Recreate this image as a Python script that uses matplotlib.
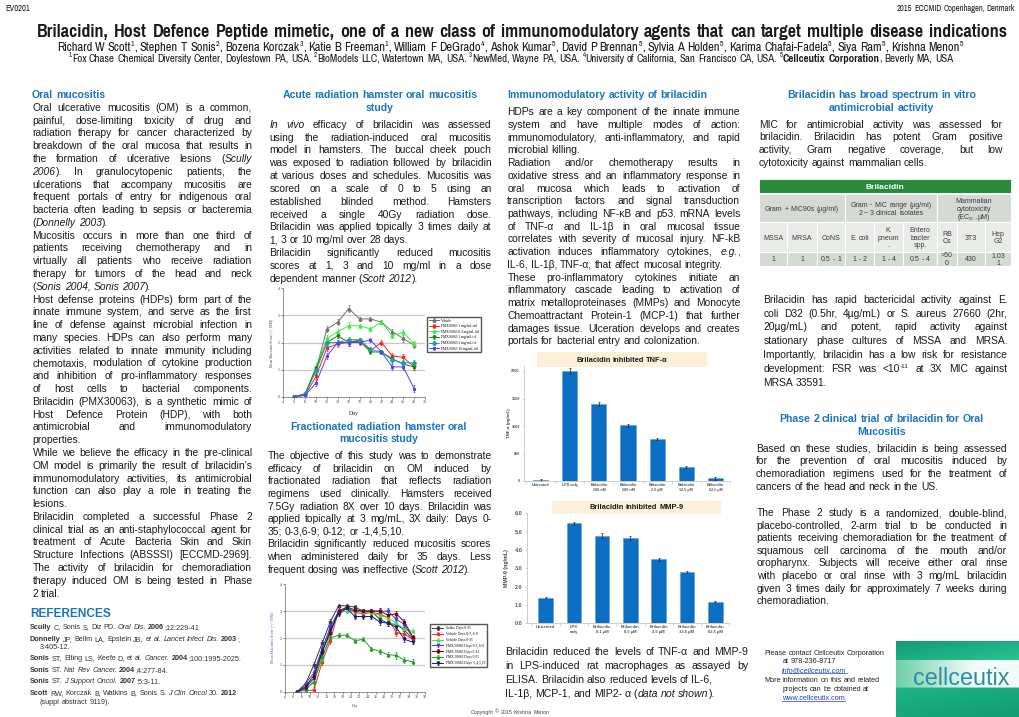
import re
import numpy as np
import matplotlib
matplotlib.use("Agg")
import matplotlib.pyplot as plt
from matplotlib import font_manager
from matplotlib.patches import Rectangle
from matplotlib.colors import to_rgb

# ------------------------------------------------------------------ data
days1 = [6, 8, 10, 12, 14, 16, 18, 20, 22, 24, 26, 28]
vehicle1 = [0, 0.1, 1.0, 2.5, 2.75, 3.25, 2.87, 2.87, 2.75, 2.4, 2.15, 1.9]
pmx1_sid = [0, 0.05, 0.75, 1.8, 1.95, 2.0, 2.1, 1.7, 2.0, 1.5, 1.45, 1.1]
pmx03_tid = [0, 0.1, 1.1, 2.15, 2.4, 2.62, 2.62, 2.5, 2.75, 2.25, 2.38, 1.95]
pmx1_tid = [0, 0.1, 1.05, 2.0, 2.25, 2.0, 2.05, 1.65, 1.65, 1.4, 1.2, 1.1]
pmx3_tid = [0, 0.1, 0.95, 2.0, 2.0, 2.1, 2.1, 1.75, 1.65, 1.35, 1.25, 1.25]
pmx10_tid = [0, 0.05, 0.5, 1.5, 2.0, 2.0, 2.0, 2.1, 1.65, 1.1, 1.1, 0.3]
err1 = [0, 0.03, 0.1, 0.12, 0.1, 0.12, 0.08, 0.08, 0.08, 0.1, 0.12, 0.12]
labels1 = ["Vehicle", "PMX30063 1 mg/mL sid", "PMX30063 0.3 mg/mL tid",
           "PMX30063 1 mg/mL tid", "PMX30063 3 mg/mL tid", "PMX30063 10 mg/mL tid"]

days2 = [7, 9, 11, 13, 15, 17, 19, 21, 23, 25, 27, 29, 31, 33, 35]
saline2 = [0, 0.3, 1.0, 1.8, 2.6, 3.2, 3.2, 3.15, 3.0, 3.0, 2.7, 2.55, 2.5, 2.3, 1.95]
veh_0369 = [0, 0.05, 0.05, 1.1, 1.9, 3.0, 3.1, 2.95, 2.9, 2.95, 2.9, 2.75, 2.2, 2.15, 1.95]
veh_035 = [0, 0.1, 0.4, 1.2, 2.2, 2.95, 3.0, 3.0, 2.95, 2.95, 2.85, 2.75, 2.55, 2.35, 2.25]
pmx_0369 = [0, 0.3, 0.7, 1.6, 2.4, 3.0, 3.1, 3.0, 3.0, 3.0, 3.0, 3.0, 2.7, 2.5, 2.0]
pmx_012 = [0, 0.2, 0.6, 1.5, 2.2, 3.0, 3.15, 3.05, 3.0, 3.0, 3.0, 2.85, 2.9, 2.6, 2.05]
pmx_035 = [0, 0.1, 0.35, 1.3, 2.0, 2.1, 2.1, 1.9, 1.95, 1.6, 1.5, 1.38, 1.35, 1.18, 1.12]
pmx_14510 = [0, 0.15, 0.5, 1.45, 2.3, 2.9, 3.1, 2.8, 2.8, 2.8, 2.6, 2.55, 2.4, 1.95, 1.85]
err2 = [0, 0.05, 0.12, 0.12, 0.12, 0.08, 0.08, 0.08, 0.08, 0.08, 0.1, 0.1, 0.12, 0.1, 0.08]
labels2 = ["Saline Days 0-35", "Vehicle Days 0-3, 6-9", "Vehicle Days 0-35",
           "PMX 30063 Days 0-3, 6-9", "PMX 30063 Days 0-12", "PMX 30063 Days 0-35",
           "PMX 30063 Days -1,4,5,10"]

tnf_labels = ["Untreated", "LPS only", "Brilacidin\n100 nM", "Brilacidin\n500 nM",
              "Brilacidin\n2.5 \u00b5M", "Brilacidin\n12.5 \u00b5M", "Brilacidin\n62.5 \u00b5M"]
tnf_vals = [20, 2000, 1400, 1010, 760, 255, 50]
tnf_err = [15, 60, 40, 25, 20, 20, 25]
tnf_ticks = [0, 500, 1000, 1500, 2000]

mmp_labels = ["Untreated", "LPS\nonly", "Brilacidin\n0.1 \u00b5M", "Brilacidin\n0.5 \u00b5M",
              "Brilacidin\n2.5 \u00b5M", "Brilacidin\n12.5 \u00b5M", "Brilacidin\n62.5 \u00b5M"]
mmp_vals = [1.4, 5.45, 4.78, 4.65, 3.5, 2.8, 1.18]
mmp_err = [0.04, 0.1, 0.15, 0.12, 0.08, 0.04, 0.03]
mmp_ticks = [0, 1, 2, 3, 4, 5, 6]

tbl_groups = [["Gram +  MIC90s (\u00b5g/ml)"],
              ["Gram -  MIC range (\u00b5g/ml)", "2 \u2013 3 clinical isolates"],
              ["Mammalian", "cytotoxicity", "(EC~50~, \u00b5M)"]]
tbl_names = [["MSSA"], ["MRSA"], ["CoNS"], ["E. coli"], ["K.", "pneum", "."],
             ["Entero", "bacter", "spp."], ["RB", "Cs"], ["3T3"], ["Hep", "G2"]]
tbl_values = [["1"], ["1"], ["0.5 - 1"], ["1 - 2"], ["1 - 4"], ["0.5 - 4"],
              [">50", "0"], ["430"], ["1,03", "1"]]

# ------------------------------------------------------------------ setup
W, H = 1020, 717
fig = plt.figure(figsize=(W / 100, H / 100), dpi=100)
fig.patch.set_facecolor("white")
bg = fig.add_axes([0, 0, 1, 1])
bg.set_xlim(0, W)
bg.set_ylim(H, 0)
bg.axis("off")
R = fig.canvas.get_renderer()

_names = {f.name for f in font_manager.fontManager.ttflist}
_bold = {f.name for f in font_manager.fontManager.ttflist if str(f.weight) in ("700", "bold")}


def pick(*cands):
    for n in cands:
        if n in _names:
            return n
    return "DejaVu Sans"


SANS = pick("Liberation Sans", "Arimo", "DejaVu Sans")
NARROW = SANS
for cand in ("Arial Narrow", "Liberation Sans Narrow", "Pragati Narrow", "Archivo Narrow",
             "Roboto Condensed", "PT Sans Narrow"):
    if cand in _names and cand in _bold:
        NARROW = cand
        break
SERIF = pick("Liberation Serif", "DejaVu Serif")
BLUE = "#1b76c2"
TXT = "#1a1a1a"

TOK = re.compile(r"(\*\*.+?\*\*|\*.+?\*|\^.+?\^|~.+?~)")


def parse(s):
    segs = []
    for part in TOK.split(s):
        if not part:
            continue
        if part.startswith("**"):
            segs.append((part[2:-2], "b"))
        elif part.startswith("*"):
            segs.append((part[1:-1], "i"))
        elif part.startswith("^"):
            segs.append((part[1:-1], "sup"))
        elif part.startswith("~"):
            segs.append((part[1:-1], "sub"))
        else:
            segs.append((part, ""))
    return segs


def to_words(segs):
    words = [[]]
    for txt, st in segs:
        parts = txt.split(" ")
        for i, p in enumerate(parts):
            if i > 0:
                words.append([])
            if p:
                words[-1].append((p, st))
    return [w for w in words if w]


_SP = {}


def space_w(size, family, weight):
    key = (round(size, 3), family, weight)
    if key not in _SP:
        a = bg.text(0, 0, "n n", fontsize=size, family=family, weight=weight)
        b = bg.text(0, 0, "nn", fontsize=size, family=family, weight=weight)
        _SP[key] = a.get_window_extent(R).width - b.get_window_extent(R).width
        a.remove()
        b.remove()
    return _SP[key]


def line(x, y, s, size, width=None, justify=False, align="left", color=TXT,
         family=None, weight="normal", fstyle="normal", fit=None, underline=False):
    family = family or SANS
    words = to_words(parse(s))
    objs, wws = [], []
    for w in words:
        items, tot = [], 0.0
        for piece, st in w:
            wt = "bold" if st == "b" else weight
            fs = "italic" if st == "i" else fstyle
            sz = size * 0.62 if st in ("sup", "sub") else size
            t = bg.text(0, 0, piece, fontsize=sz, family=family, weight=wt,
                        style=fs, color=color, va="baseline", ha="left")
            wd = t.get_window_extent(R).width
            items.append((t, wd, st))
            tot += wd
        objs.append(items)
        wws.append(tot)
    sp = space_w(size, family, weight)
    nat = sum(wws) + sp * (len(words) - 1)
    if fit and nat > 0:
        for items in objs:
            for t, _, _ in items:
                t.remove()
        return line(x, y, s, size * fit / nat, width, justify, align, color,
                    family, weight, fstyle, None, underline)
    gap = sp
    if justify and width and len(words) > 1:
        gap = max((width - sum(wws)) / (len(words) - 1), sp * 0.5)
        nat = sum(wws) + gap * (len(words) - 1)
    if align == "center":
        x0 = x - nat / 2
    elif align == "right":
        x0 = x - nat
    else:
        x0 = x
    em = size * 100 / 72
    yb = y + 0.33 * em
    start = x0
    for items, ww in zip(objs, wws):
        cx = x0
        for t, wd, st in items:
            if st == "sup":
                t.set_position((cx, yb - 0.42 * em))
            elif st == "sub":
                t.set_position((cx, yb + 0.15 * em))
            else:
                t.set_position((cx, yb))
            cx += wd
        x0 += ww + gap
    if underline:
        bg.plot([start, start + nat], [yb + 0.14 * em] * 2, color=color, lw=0.5)
    return nat


def block(x, y0, step, width, paras, size, **kw):
    y = y0
    for p in paras:
        for i, ln in enumerate(p):
            line(x, y, ln, size, width=width, justify=(i < len(p) - 1), **kw)
            y += step
    return y


def px_axes(l, t, r, b):
    ax = fig.add_axes([l / W, 1 - b / H, (r - l) / W, (b - t) / H])
    ax.set_facecolor("none")
    return ax


BODY = 7.4

# ------------------------------------------------------------------ header
line(5, 8, "EV0201", 6.6, family=NARROW)
line(1015, 8, "2015 ECCMID Copenhagen, Denmark", 6.6, family=NARROW, align="right")
line(37, 31, "Brilacidin, Host Defence Peptide mimetic, one of a new class of "
     "immunomodulatory agents that can target multiple disease indications",
     12, family=NARROW, weight="bold", width=970, justify=True, fit=948)
line(510, 47, "Richard W Scott^1^, Stephen T Sonis^2^, Bozena Korczak^3^, Katie B Freeman^1^, "
     "William F DeGrado^4^, Ashok Kumar^5^, David P Brennan^5^, Sylvia A Holden^5^, "
     "Karima Chafai-Fadela^5^, Siya Ram^5^, Krishna Menon^5^",
     7, family=NARROW, align="center", fit=906)
line(511, 58, "^1^Fox Chase Chemical Diversity Center, Doylestown PA, USA. "
     "^2^BioModels LLC, Watertown MA, USA. ^3^NewMed, Wayne PA, USA. "
     "^4^University of California, San Francisco CA, USA. "
     "^5^**Cellceutix Corporation**, Beverly MA, USA",
     6, family=NARROW, align="center", fit=882)

# ------------------------------------------------------------------ column 1
line(32, 95, "Oral mucositis", 7.6, weight="bold", color=BLUE)
col1 = [
    ["Oral ulcerative mucositis (OM) is a common,",
     "painful, dose-limiting toxicity of drug and",
     "radiation therapy for cancer characterized by",
     "breakdown of the oral mucosa that results in",
     "the formation of ulcerative lesions (*Scully*",
     "*2006*). In granulocytopenic patients, the",
     "ulcerations that accompany mucositis are",
     "frequent portals of entry for indigenous oral",
     "bacteria often leading to sepsis or bacteremia",
     "(*Donnelly 2003*)."],
    ["Mucositis occurs in more than one third of",
     "patients receiving chemotherapy and in",
     "virtually all patients who receive radiation",
     "therapy for tumors of the head and neck",
     "(*Sonis 2004, Sonis 2007*)."],
    ["Host defense proteins (HDPs) form part of the",
     "innate immune system, and serve as the first",
     "line of defense against microbial infection in",
     "many species. HDPs can also perform many",
     "activities related to innate immunity including",
     "chemotaxis, modulation of cytokine production",
     "and inhibition of pro-inflammatory responses",
     "of host cells to bacterial components.",
     "Brilacidin (PMX30063), is a synthetic mimic of",
     "Host Defence Protein (HDP), with both",
     "antimicrobial and immunomodulatory",
     "properties."],
    ["While we believe the efficacy in the pre-clinical",
     "OM model is primarily the result of brilacidin\u2019s",
     "immunomodulatory activities, its antimicrobial",
     "function can also play a role in treating the",
     "lesions."],
    ["Brilacidin completed a successful Phase 2",
     "clinical trial as an anti-staphylococcal agent for",
     "treatment of Acute Bacteria Skin and Skin",
     "Structure Infections (ABSSSI) [ECCMD-2969].",
     "The activity of brilacidin for chemoradiation",
     "therapy induced OM is being tested in Phase",
     "2 trial."],
]
block(32.5, 107.5, 12.78, 219.5, col1, BODY)

line(30, 612.7, "REFERENCES", 8.6, weight="bold", color=BLUE)
refs = [
    (30, 626.7, "**Scully** C, Sonis S, Diz PD. *Oral Dis.* **2006**;12:229-41"),
    (30, 638.2, "**Donnelly** JP, Bellm LA, Epstein JB, *et al. Lancet Infect Dis.* **2003**;"),
    (40, 646.7, "3:405-12."),
    (30, 657.7, "**Sonis** ST, Elting LS, Keefe D, et al. *Cancer.* **2004**;100:1995-2025."),
    (30, 669.3, "**Sonis** ST. *Nat Rev Cancer.* **2004**;4:277-84."),
    (30, 681, "**Sonis** ST. *J Support Oncol.* **2007**;5:3-11."),
    (30, 692.3, "**Scott** RW, Korczak B, Watkins B, Sonis S. *J Clin Oncol* 30. **2012**"),
    (40, 701.7, "(suppl abstract 9119)."),
]
for rx, ry, rs in refs:
    line(rx, ry, rs, 5.2, color="#333333")

# ------------------------------------------------------------------ column 2
line(380, 95, "Acute radiation hamster oral mucositis", 7.6, weight="bold", color=BLUE, align="center")
line(380, 107.7, "study", 7.6, weight="bold", color=BLUE, align="center")
col2a = [
    ["*In vivo* efficacy of brilacidin was assessed",
     "using the radiation-induced oral mucositis",
     "model in hamsters. The buccal cheek pouch",
     "was exposed to radiation followed by brilacidin",
     "at various doses and schedules. Mucositis was",
     "scored on a scale of 0 to 5 using an",
     "established blinded method. Hamsters",
     "received a single 40Gy radiation dose.",
     "Brilacidin was applied topically 3 times daily at",
     "1, 3 or 10 mg/ml over 28 days."],
    ["Brilacidin significantly reduced mucositis",
     "scores at 1, 3 and 10 mg/ml in a dose",
     "dependent manner (*Scott 2012*)."],
]
block(269.5, 124.3, 12.83, 222, col2a, BODY)

line(379, 426.7, "Fractionated radiation hamster oral", 7.6, weight="bold", color=BLUE, align="center")
line(379, 439, "mucositis study", 7.6, weight="bold", color=BLUE, align="center")
col2b = [
    ["The objective of this study was to demonstrate",
     "efficacy of brilacidin on OM induced by",
     "fractionated radiation that reflects radiation",
     "regimens used clinically. Hamsters received",
     "7.5Gy radiation 8X over 10 days. Brilacidin was",
     "applied topically at 3 mg/mL, 3X daily: Days 0-",
     "35; 0-3,6-9; 0-12; or -1,4,5,10."],
    ["Brilacidin significantly reduced mucositis scores",
     "when administered daily for 35 days. Less",
     "frequent dosing was ineffective (*Scott 2012*)."],
]
block(267.5, 455.7, 12.62, 224, col2b, BODY)

# ------------------------------------------------------------------ chart 1
ax1 = px_axes(283.3, 288.3, 425, 396.7)
styles1 = [("#707070", "^"), ("#ff2020", "s"), ("#3cf03c", "^"),
           ("#1f7f1f", "v"), ("#17a0a0", "D"), ("#5a3cff", "*")]
series1 = [vehicle1, pmx1_sid, pmx03_tid, pmx1_tid, pmx3_tid, pmx10_tid]
h1 = []
for vals, (c, m), lab in zip(series1, styles1, labels1):
    h = ax1.errorbar(days1, vals, yerr=err1, color=c, marker=m, ms=2.0, lw=0.7,
                     elinewidth=0.5, capsize=1.0, capthick=0.5, label=lab)
    h1.append(h)
ax1.set_xlim(4, 30)
ax1.set_ylim(0, 4)
ax1.set_xticks(range(4, 31, 2))
ax1.set_yticks(range(0, 5))
for v in (1, 2, 3):
    ax1.axhline(v, color="#c9c9c9", lw=0.9, zorder=0)


def style_line_axes(ax):
    ax.tick_params(labelsize=2.8, length=1.5, width=0.4, pad=1, colors="#333333")
    for s in ("top", "right"):
        ax.spines[s].set_visible(False)
    for s in ("left", "bottom"):
        ax.spines[s].set_linewidth(0.5)
        ax.spines[s].set_color("#666666")
    for lb in ax.get_xticklabels() + ax.get_yticklabels():
        lb.set_family(SERIF)


style_line_axes(ax1)
ax1.legend(handles=h1, loc="upper left", bbox_to_anchor=(426.7 / W, 1 - 316.7 / H),
           bbox_transform=fig.transFigure, prop={"family": SERIF, "size": 2.6},
           frameon=True, fancybox=False, edgecolor="#555555", framealpha=1,
           borderpad=0.5, labelspacing=0.45, handlelength=3.0, handletextpad=0.5,
           borderaxespad=0)
bg.text(354, 413, "Day", fontsize=4.3, family=SERIF, ha="center", va="center", color="#222")
bg.text(271, 342.5, "Mean Mucositis Score (+/- SEM)", fontsize=2.6, family=SERIF,
        rotation=90, ha="center", va="center", color="#444")

# ------------------------------------------------------------------ chart 2
ax2 = px_axes(285, 584.3, 425, 691.7)
styles2 = [("#3a3a3a", "s"), ("#ff2a2a", "s"), ("#3ce63c", "^"), ("#3a3aff", "v"),
           ("#800000", "s"), ("#22a022", "^"), ("#1a1a80", "v")]
series2 = [saline2, veh_0369, veh_035, pmx_0369, pmx_012, pmx_035, pmx_14510]
h2 = []
for vals, (c, m), lab in zip(series2, styles2, labels2):
    h = ax2.errorbar(days2, vals, yerr=err2, color=c, marker=m, ms=1.8, lw=0.7,
                     elinewidth=0.5, capsize=1.0, capthick=0.5, label=lab)
    h2.append(h)
ax2.set_xlim(4, 38)
ax2.set_ylim(0, 4)
ax2.set_xticks(range(4, 39, 2))
ax2.set_yticks(range(0, 5))
for v in (1, 2, 3):
    ax2.axhline(v, color="#c9c9c9", lw=0.9, zorder=0)
style_line_axes(ax2)
ax2.legend(handles=h2, loc="upper left", bbox_to_anchor=(430 / W, 1 - 624.3 / H),
           bbox_transform=fig.transFigure, prop={"family": SERIF, "size": 2.6},
           frameon=True, fancybox=False, edgecolor="#555555", framealpha=1,
           borderpad=0.5, labelspacing=0.5, handlelength=3.2, handletextpad=0.6,
           borderaxespad=0)
bg.text(355, 706, "Day", fontsize=2.8, family=SERIF, ha="center", va="center", color="#444")
bg.text(272, 637, "Mean Mucositis Score (+/- SEM)", fontsize=2.8, family=SERIF,
        rotation=90, ha="center", va="center", color="#5a5ab0")

# ------------------------------------------------------------------ column 3
line(507.3, 95, "Immunomodulatory activity of brilacidin", 7.6, weight="bold", color=BLUE)
col3 = [
    ["HDPs are a key component of the innate immune",
     "system and have multiple modes of action:",
     "immunomodulatory, anti-inflammatory, and rapid",
     "microbial killing."],
    ["Radiation and/or chemotherapy results in",
     "oxidative stress and an inflammatory response in",
     "oral mucosa which leads to activation of",
     "transcription factors and signal transduction",
     "pathways, including NF-\u03baB and p53. mRNA levels",
     "of TNF-\u03b1 and IL-1\u03b2 in oral mucosal tissue",
     "correlates with severity of mucosal injury. NF-kB",
     "activation induces inflammatory cytokines, *e.g.*,",
     "IL-6, IL-1\u03b2, TNF-\u03b1, that affect mucosal integrity."],
    ["These pro-inflammatory cytokines initiate an",
     "inflammatory cascade leading to activation of",
     "matrix metalloproteinases (MMPs) and Monocyte",
     "Chemoattractant Protein-1 (MCP-1) that further",
     "damages tissue. Ulceration develops and creates",
     "portals for bacterial entry and colonization."],
]
block(507.3, 111.7, 12.74, 233, col3, BODY)


def bar_chart(ax, vals, errs, labels, ticks, tickfmt, width, lblsize, ticksize, xl):
    x = np.arange(len(vals))
    ax.bar(x, vals, width=width, color="#0b6fc4", edgecolor="#5b9bd5", linewidth=0.4,
           yerr=errs, error_kw=dict(ecolor="#222222", elinewidth=0.5, capsize=1.0, capthick=0.5))
    ax.set_xlim(*xl)
    ax.set_yticks(ticks)
    ax.set_yticklabels([tickfmt(t) for t in ticks], fontsize=ticksize, family=SANS,
                       weight="bold", color="#555555")
    ax.set_xticks(x)
    ax.set_xticklabels(labels, fontsize=lblsize, family=SANS, weight="bold",
                       color="#555555", linespacing=1.3)
    ax.set_xticks(np.arange(len(vals) + 1) - 0.5, minor=True)
    ax.tick_params(axis="x", which="major", length=0, pad=1.5)
    ax.tick_params(axis="x", which="minor", length=2, width=0.4, color="#bbbbbb")
    ax.tick_params(axis="y", length=1.5, width=0.4, color="#bbbbbb", pad=1.5)
    for s in ("top", "right"):
        ax.spines[s].set_visible(False)
    for s in ("left", "bottom"):
        ax.spines[s].set_linewidth(0.5)
        ax.spines[s].set_color("#bbbbbb")


# TNF chart
bg.add_patch(Rectangle((537, 352), 170, 15, facecolor="#fcf0d8", edgecolor="none"))
line(622, 359.5, "Brilacidin inhibited TNF-\u03b1", 5.4, weight="bold", align="center")
axT = px_axes(524, 365.5, 730, 481)
axT.set_ylim(0, 2100)
bar_chart(axT, tnf_vals, tnf_err, tnf_labels, tnf_ticks, lambda t: f"{t}",
          0.52, 2.7, 2.7, (-0.57, 6.47))
bg.text(509, 423, "TNF-\u03b1 (pg/mL)", fontsize=3.2, family=SANS, weight="bold",
        rotation=90, ha="center", va="center", color="#444")

# MMP chart
bg.add_patch(Rectangle((552, 500.5), 169, 13, facecolor="#fcf0d8", edgecolor="none"))
line(636.5, 507, "Brilacidin inhibited MMP-9", 5.4, weight="bold", align="center")
axM = px_axes(526.7, 513.3, 729.3, 623.3)
axM.set_ylim(0, 6)
bar_chart(axM, mmp_vals, mmp_err, mmp_labels, mmp_ticks, lambda t: f"{t:.1f}",
          0.52, 3.0, 4.0, (-0.67, 6.47))
bg.text(507, 568, "MMP-9 (ng/mL)", fontsize=3.8, family=SANS, weight="bold",
        rotation=90, ha="center", va="center", color="#444")

col3b = ["Brilacidin reduced the levels of TNF-\u03b1 and MMP-9",
         "in LPS-induced rat macrophages as assayed by",
         "ELISA. Brilacidin also reduced levels of  IL-6,",
         "IL-1\u03b2, MCP-1, and MIP2- \u03b1 (*data not shown*)."]
for i, ln in enumerate(col3b):
    line(505, 651.7 + 13.9 * i, ln, 7.6, width=243.5, justify=(i < 2))

line(510, 712, "Copyright \u00a9 2015 Krishna Menon", 3.8, align="center", color="#444")

# ------------------------------------------------------------------ column 4
line(881.7, 95, "Brilacidin has broad spectrum in vitro", 7.6, weight="bold", color=BLUE, align="center")
line(881.7, 107.7, "antimicrobial activity", 7.6, weight="bold", color=BLUE, align="center")
col4a = [["MIC for antimicrobial activity was assessed for",
          "brilacidin. Brilacidin has potent Gram positive",
          "activity, Gram negative coverage, but low",
          "cytotoxicity against mammalian cells."]]
block(759, 124.3, 12.8, 244, col4a, BODY)

# table
cols = [759, 787.3, 816.7, 845, 874.3, 903.3, 936.7, 957.3, 985, 1011]
bg.add_patch(Rectangle((759, 179.3), 252, 14, facecolor="#2a8a3c", edgecolor="white", lw=0.6))
line(885, 186.3, "Brilacidin", 6.0, weight="bold", color="white", align="center")
row2 = (194.3, 222.3)
row3 = (222.3, 252.2)
row4 = (252.2, 265.5)
gcols = [(cols[0], cols[3]), (cols[3], cols[6]), (cols[6], cols[9])]
TBL = "#3c3c3c"
for (x0, x1), txts in zip(gcols, tbl_groups):
    bg.add_patch(Rectangle((x0, row2[0]), x1 - x0, row2[1] - row2[0],
                           facecolor="#d6dad5", edgecolor="white", lw=0.8))
    n = len(txts)
    yc = (row2[0] + row2[1]) / 2
    for k, tx in enumerate(txts):
        line((x0 + x1) / 2, yc + (k - (n - 1) / 2) * 8, tx, 5.0, align="center", color=TBL)
for (rw, data, fc) in ((row3, tbl_names, "#e8ebe7"), (row4, tbl_values, "#d4dbd2")):
    for j, txts in enumerate(data):
        x0, x1 = cols[j], cols[j + 1]
        bg.add_patch(Rectangle((x0, rw[0]), x1 - x0, rw[1] - rw[0],
                               facecolor=fc, edgecolor="white", lw=0.8))
        n = len(txts)
        yc = (rw[0] + rw[1]) / 2
        sp = 7.7 if rw is row3 else 8.0
        for k, tx in enumerate(txts):
            line((x0 + x1) / 2, yc + (k - (n - 1) / 2) * sp, tx, 5.0, align="center", color=TBL)

col4b = [["Brilacidin has rapid bactericidal activity against E.",
          "coli D32 (0.5hr, 4\u00b5g/mL) or S. aureus 27660 (2hr,",
          "20\u00b5g/mL) and potent, rapid activity against",
          "stationary phase cultures of MSSA and MRSA.",
          "Importantly, brilacidin has a low risk for resistance",
          "development: FSR was <10^-11^ at 3X MIC against",
          "MRSA 33591."]]
block(763.3, 299.3, 13.83, 244, col4b, BODY)

line(881.7, 419, "Phase 2 clinical trial of brilacidin for Oral", 7.6, weight="bold", color=BLUE, align="center")
line(881.7, 431.7, "Mucositis", 7.6, weight="bold", color=BLUE, align="center")
col4c = [["Based on these studies, brilacidin is being assessed",
          "for the prevention of oral mucositis induced by",
          "chemoradiation regimens used for the treatment of",
          "cancers of the head and neck in the US."]]
block(755.7, 448.3, 12.8, 251.5, col4c, BODY)
col4d = [["The Phase 2 study is a randomized, double-blind,",
          "placebo-controlled, 2-arm trial to be conducted in",
          "patients receiving chemoradiation for the treatment of",
          "squamous cell carcinoma of the mouth and/or",
          "oropharynx. Subjects will receive either oral rinse",
          "with placebo or oral rinse with 3 mg/mL brilacidin",
          "given 3 times daily for approximately 7 weeks during",
          "chemoradiation."]]
block(756.7, 512.7, 12.6, 250.5, col4d, BODY)

# contact
line(764.3, 652.7, "Please contact Cellceutix Corporation", 5.2, color="#222")
line(782.3, 661, "at  978-236-8717", 5.2, color="#222")
line(782.3, 670, "info@cellceutix.com", 5.2, color="#1f3fbf", fstyle="italic", underline=True)
line(764.3, 679.3, "More information on this and related", 5.2, color="#222")
line(782.3, 688.3, "projects can be obtained at", 5.2, color="#222")
line(782.3, 697.3, "www.cellceutix.com", 5.2, color="#1f3fbf", underline=True)

# logo
ny, nx = 80, 130
img = np.zeros((ny, nx, 3))
c_top0, c_top1 = np.array(to_rgb("#159a72")), np.array(to_rgb("#27c491"))
c_bot0, c_bot1 = np.array(to_rgb("#1cb585")), np.array(to_rgb("#139c70"))
c_bl, c_br = np.array(to_rgb("#6fcfaa")), np.array(to_rgb("#f4fbf8"))
for i in range(ny):
    fy = i / (ny - 1)
    for j in range(nx):
        fx = j / (nx - 1)
        if fy < 0.25:
            t = 0.5 * fx + 0.5 * (fy / 0.25)
            img[i, j] = c_top0 * (1 - t) + c_top1 * t
        elif fy < 0.62:
            t = min(1, fx * 1.6)
            img[i, j] = c_bl * (1 - t) + c_br * t
        else:
            t = (fy - 0.62) / 0.38 * 0.6 + 0.4 * fx
            img[i, j] = c_bot0 * (1 - t) + c_bot1 * t
bg.imshow(img, extent=(896, 1020, 717, 641), aspect="auto", zorder=1, interpolation="bilinear")
bg.set_xlim(0, W)
bg.set_ylim(H, 0)
line(961.7, 677.7, "cellceutix", 16, color="#2a8ea4", align="center", fit=97)

fig.savefig("out.png", dpi=100, facecolor="white")
